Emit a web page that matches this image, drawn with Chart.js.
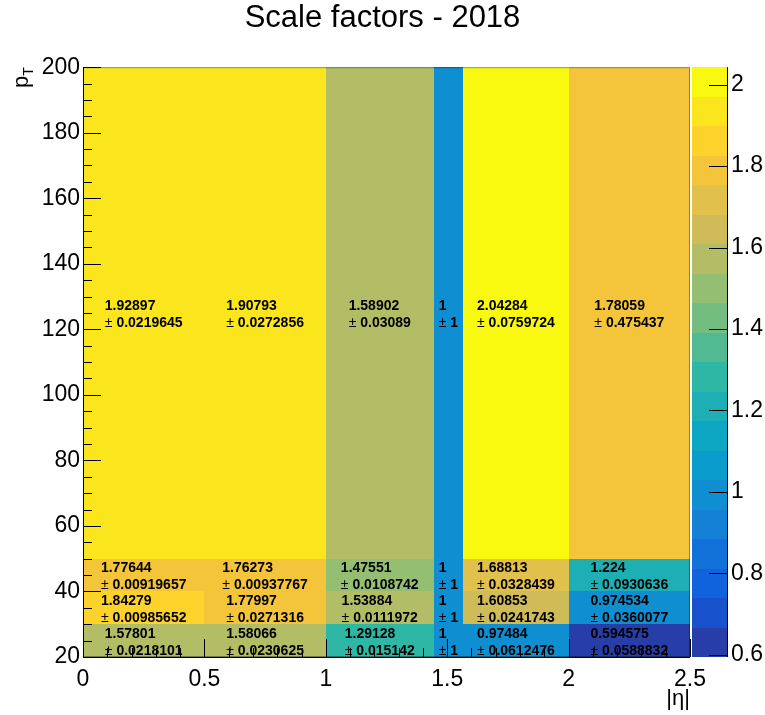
<!DOCTYPE html>
<html>
<head>
<meta charset="utf-8">
<title>Scale factors - 2018</title>
<script src="https://cdn.jsdelivr.net/npm/chart.js@4.4.1/dist/chart.umd.min.js"></script>
<style>
  html, body { margin: 0; padding: 0; background: #fff; }
  .chart-container { width: 765px; height: 715px; }
</style>
</head>
<body>
<div class="chart-container"><canvas id="sfChart"></canvas></div>
<script>
// Bin edges
const etaEdges = [0, 0.5, 1.0, 1.4442, 1.566, 2.0, 2.5];
const ptEdges = [20, 30, 40, 50, 200];

// Scale factors and uncertainties, one array per pT bin (ordered by |eta| bin)
const sfPt20to30 = [1.57801, 1.58066, 1.29128, 1, 0.97484, 0.594575];
const errPt20to30 = [0.0218101, 0.0230625, 0.015142, 1, 0.0612476, 0.0588832];
const sfPt30to40 = [1.84279, 1.77997, 1.53884, 1, 1.60853, 0.974534];
const errPt30to40 = [0.00985652, 0.0271316, 0.0111972, 1, 0.0241743, 0.0360077];
const sfPt40to50 = [1.77644, 1.76273, 1.47551, 1, 1.68813, 1.224];
const errPt40to50 = [0.00919657, 0.00937767, 0.0108742, 1, 0.0328439, 0.0930636];
const sfPt50to200 = [1.92897, 1.90793, 1.58902, 1, 2.04284, 1.78059];
const errPt50to200 = [0.0219645, 0.0272856, 0.03089, 1, 0.0759724, 0.475437];

// Axis tick labels
const etaTicks = [0, 0.5, 1, 1.5, 2, 2.5];
const ptTicks = [20, 40, 60, 80, 100, 120, 140, 160, 180, 200];
const zTicks = [0.6, 0.8, 1, 1.2, 1.4, 1.6, 1.8, 2];

const sfRows = [sfPt20to30, sfPt30to40, sfPt40to50, sfPt50to200];
const errRows = [errPt20to30, errPt30to40, errPt40to50, errPt50to200];

const allSf = sfRows.flat();
const zMin = Math.min(...allSf);
const zMax = Math.max(...allSf);
const nContours = 20;

const FONT = '"Liberation Sans", Arial, Helvetica, sans-serif';

// kBird gradient
const birdStops = [0, 0.125, 0.25, 0.375, 0.5, 0.625, 0.75, 0.875, 1];
const birdR = [0.2082, 0.0592, 0.0780, 0.0232, 0.1802, 0.5301, 0.8186, 0.9956, 0.9764];
const birdG = [0.1664, 0.3599, 0.5041, 0.6419, 0.7178, 0.7492, 0.7328, 0.7862, 0.9832];
const birdB = [0.5293, 0.8684, 0.8385, 0.7914, 0.6425, 0.4662, 0.3499, 0.1968, 0.0539];

function birdAt(f) {
  let k = 1;
  while (k < birdStops.length - 1 && f > birdStops[k]) k++;
  const t = (f - birdStops[k - 1]) / (birdStops[k] - birdStops[k - 1]);
  const mix = arr => Math.round(255 * (arr[k - 1] + t * (arr[k] - arr[k - 1])));
  return `rgb(${mix(birdR)}, ${mix(birdG)}, ${mix(birdB)})`;
}

function levelColor(level) {
  const idx = Math.floor((level + 0.99) * 255 / nContours);
  return birdAt(idx / 255);
}

function levelOf(z) {
  let lvl = Math.floor(0.01 + (z - zMin) * nContours / (zMax - zMin));
  return Math.min(Math.max(lvl, 0), nContours - 1);
}

// one scatter dataset per pT bin, points at the cell centres
const datasets = sfRows.map((row, j) => ({
  label: `pT ${ptEdges[j]}-${ptEdges[j + 1]}`,
  data: row.map((v, i) => ({
    x: (etaEdges[i] + etaEdges[i + 1]) / 2,
    y: (ptEdges[j] + ptEdges[j + 1]) / 2,
  })),
  pointRadius: 0,
}));

const heatmapPlugin = {
  id: 'heatmap',
  beforeDatasetsDraw(chart) {
    const { ctx, scales: { x, y } } = chart;
    ctx.save();
    sfRows.forEach((row, j) => {
      const yTop = Math.round(y.getPixelForValue(ptEdges[j + 1]));
      const yBot = Math.round(y.getPixelForValue(ptEdges[j]));
      row.forEach((v, i) => {
        const xL = Math.round(x.getPixelForValue(etaEdges[i]));
        const xR = Math.round(x.getPixelForValue(etaEdges[i + 1]));
        ctx.fillStyle = levelColor(levelOf(v));
        ctx.fillRect(xL, yTop, xR - xL, yBot - yTop);
      });
    });
    ctx.restore();
  },
  afterDatasetsDraw(chart) {
    const { ctx, chartArea: area, scales: { x, y, z } } = chart;
    ctx.save();

    // cell texts: value on top, uncertainty below, left aligned block centred in the bin
    const boldFont = `bold 14px ${FONT}`;
    const plainFont = `14px ${FONT}`;
    ctx.fillStyle = '#000';
    ctx.textBaseline = 'alphabetic';
    ctx.textAlign = 'left';
    sfRows.forEach((row, j) => {
      const cy = y.getPixelForValue((ptEdges[j] + ptEdges[j + 1]) / 2);
      row.forEach((v, i) => {
        const cx = x.getPixelForValue((etaEdges[i] + etaEdges[i + 1]) / 2);
        const top = String(v);
        const err = String(errRows[j][i]);
        ctx.font = boldFont;
        const wTop = ctx.measureText(top).width;
        const wErr = ctx.measureText(err).width;
        ctx.font = plainFont;
        const wPm = ctx.measureText('\u00B1 ').width;
        const w = Math.max(wTop, wPm + wErr);
        const left = cx - w / 2;
        ctx.font = boldFont;
        ctx.fillText(top, left, cy - 3);
        ctx.font = plainFont;
        ctx.fillText('\u00B1 ', left, cy + 14);
        ctx.font = boldFont;
        ctx.fillText(err, left + wPm, cy + 14);
      });
    });

    // frame
    ctx.strokeStyle = 'rgba(0,0,0,0.35)';
    ctx.lineWidth = 1;
    ctx.strokeRect(area.left + 0.5, area.top + 0.5, area.right - area.left - 1, area.bottom - area.top - 1);

    // axis lines and inward ticks
    ctx.strokeStyle = '#000';
    ctx.beginPath();
    ctx.moveTo(area.left + 0.5, area.top);
    ctx.lineTo(area.left + 0.5, area.bottom + 0.5);
    ctx.lineTo(area.right, area.bottom + 0.5);

    const majorLen = 18, minorLen = 9;
    etaTicks.forEach((t, k) => {
      const px = Math.round(x.getPixelForValue(t)) + 0.5;
      ctx.moveTo(px, area.bottom);
      ctx.lineTo(px, area.bottom - majorLen);
      if (k < etaTicks.length - 1) {
        const step = (etaTicks[k + 1] - t) / 5;
        for (let m = 1; m < 5; m++) {
          const mx = Math.round(x.getPixelForValue(t + m * step)) + 0.5;
          ctx.moveTo(mx, area.bottom);
          ctx.lineTo(mx, area.bottom - minorLen);
        }
      }
    });
    ptTicks.forEach((t, k) => {
      const py = Math.round(y.getPixelForValue(t)) + 0.5;
      ctx.moveTo(area.left, py);
      ctx.lineTo(area.left + majorLen, py);
      if (k < ptTicks.length - 1) {
        const step = (ptTicks[k + 1] - t) / 4;
        for (let m = 1; m < 4; m++) {
          const my = Math.round(y.getPixelForValue(t + m * step)) + 0.5;
          ctx.moveTo(area.left, my);
          ctx.lineTo(area.left + minorLen, my);
        }
      }
    });
    ctx.stroke();

    // colour palette
    const palL = z.left + 2;
    const palR = z.left + 37;
    for (let l = 0; l < nContours; l++) {
      const lo = zMin + l * (zMax - zMin) / nContours;
      const hi = zMin + (l + 1) * (zMax - zMin) / nContours;
      const yLo = Math.round(z.getPixelForValue(lo));
      const yHi = Math.round(z.getPixelForValue(hi));
      ctx.fillStyle = levelColor(l);
      ctx.fillRect(palL, yHi, palR - palL, yLo - yHi);
    }
    ctx.beginPath();
    ctx.moveTo(palR + 0.5, z.top);
    ctx.lineTo(palR + 0.5, z.bottom);
    zTicks.forEach(t => {
      const py = Math.round(z.getPixelForValue(t)) + 0.5;
      ctx.moveTo(palR, py);
      ctx.lineTo(palR - majorLen, py);
    });
    ctx.stroke();

    // axis titles
    ctx.fillStyle = '#000';
    ctx.textAlign = 'right';
    ctx.textBaseline = 'alphabetic';
    ctx.font = `22px ${FONT}`;
    ctx.fillText('|\u03B7|', area.right, area.bottom + 48);

    ctx.save();
    ctx.translate(28, area.top);
    ctx.rotate(-Math.PI / 2);
    ctx.textAlign = 'left';
    ctx.font = `14px ${FONT}`;
    const wT = ctx.measureText('T').width;
    ctx.font = `22px ${FONT}`;
    const wP = ctx.measureText('p').width;
    ctx.fillText('p', -(wP + wT), 0);
    ctx.font = `14px ${FONT}`;
    ctx.fillText('T', -wT, 5);
    ctx.restore();

    ctx.restore();
  }
};

const tickFont = { family: FONT, size: 23 };

new Chart(document.getElementById('sfChart').getContext('2d'), {
  type: 'scatter',
  data: { datasets },
  options: {
    responsive: true,
    maintainAspectRatio: false,
    animation: false,
    layout: { padding: 0 },
    plugins: {
      legend: { display: false },
      tooltip: { enabled: false },
      title: {
        display: true,
        text: 'Scale factors - 2018',
        color: '#000',
        font: { family: FONT, size: 31, weight: 'normal' },
        padding: { top: 0, bottom: 30 },
      },
    },
    scales: {
      x: {
        type: 'linear',
        min: 0,
        max: 2.5,
        grid: { display: false, drawTicks: false },
        border: { display: false },
        afterBuildTicks: s => { s.ticks = etaTicks.map(v => ({ value: v })); },
        afterFit: s => { s.height = 58; },
        ticks: { color: '#000', font: tickFont, padding: 9, maxRotation: 0, autoSkip: false, callback: v => String(v) },
      },
      y: {
        type: 'linear',
        min: 20,
        max: 200,
        grid: { display: false, drawTicks: false },
        border: { display: false },
        afterBuildTicks: s => { s.ticks = ptTicks.map(v => ({ value: v })); },
        afterFit: s => { s.width = 83; },
        ticks: { color: '#000', font: tickFont, padding: 3, autoSkip: false, callback: v => String(v) },
      },
      z: {
        type: 'linear',
        position: 'right',
        min: zMin,
        max: zMax,
        grid: { display: false, drawTicks: false },
        border: { display: false },
        afterBuildTicks: s => { s.ticks = zTicks.map(v => ({ value: v })); },
        afterFit: s => { s.width = 75; },
        ticks: { color: '#000', font: tickFont, padding: 41, autoSkip: false, callback: v => String(v) },
      },
    },
  },
  plugins: [heatmapPlugin],
});
</script>
</body>
</html>
